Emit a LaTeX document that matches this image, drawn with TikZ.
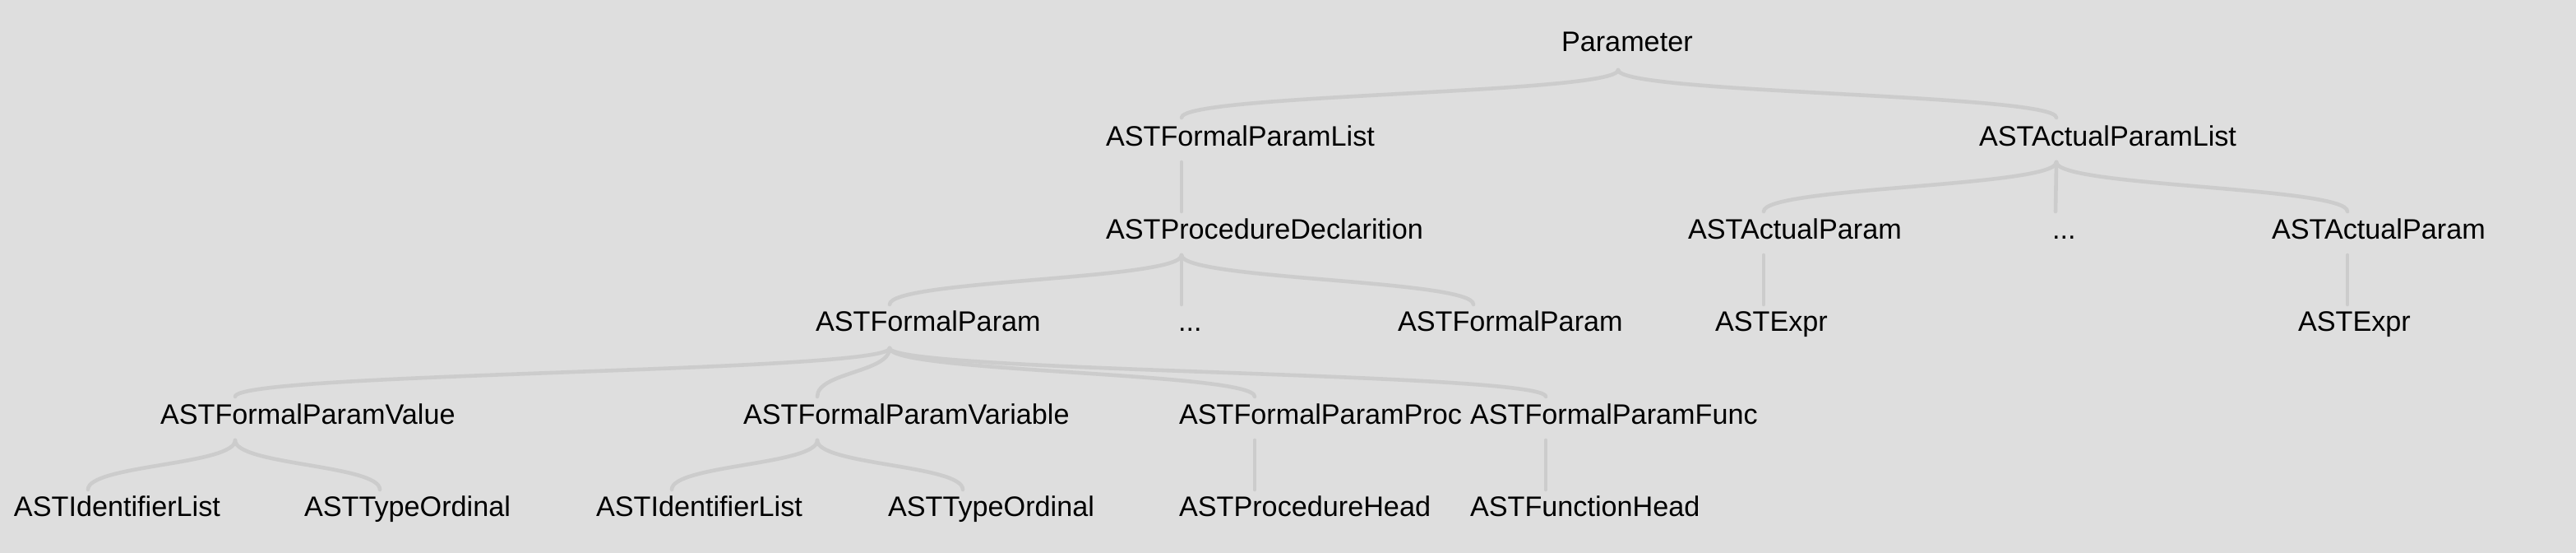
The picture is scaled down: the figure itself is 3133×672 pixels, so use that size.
\documentclass[tikz,border=0pt]{standalone}
\usepackage{fontspec}
\setmainfont{Liberation Sans}
\usetikzlibrary{calc}
\definecolor{bgc}{RGB}{222,222,222}
\definecolor{lnc}{RGB}{204,204,204}
% name, text x, baseline, link x, top y, bottom y, text
\newcommand\tnode[7]{%
  \node[lbl] (#1) at (#2,#3) {#7};
  \coordinate (#1-t) at (#4,#5);
  \coordinate (#1-b) at (#4,#6);
}
\newcommand\lnk[2]{%
  \coordinate (#1-#2-m) at ($(#1-b)!0.5!(#2-t)$);
  \draw[link] (#1-b) .. controls (#1-b |- #1-#2-m) and (#2-t |- #1-#2-m) .. (#2-t);
}
\begin{document}
\begin{tikzpicture}[x=0.5pt,y=-0.5pt,
  lbl/.style={anchor=base west,inner sep=0pt,outer sep=0pt,font=\fontsize{17.1pt}{20pt}\selectfont,text=black},
  link/.style={draw=lnc,line width=2.3pt,line cap=round}]
\fill[bgc] (0,0) rectangle (3133,672);
\useasboundingbox (0,0) rectangle (3133,672);

\tnode{P}{1899}{63}{1968}{30}{85}{Parameter}
\tnode{FPL}{1345}{178}{1437}{143}{197}{ASTFormalParamList}
\tnode{APL}{2407}{178}{2501}{143}{197}{ASTActualParamList}
\tnode{PD}{1345}{291}{1437}{257}{310}{ASTProcedureDeclarition}
\tnode{AP1}{2053}{291}{2145}{257}{310}{ASTActualParam}
\tnode{AD}{2496}{291}{2500}{257}{310}{...}
\tnode{AP2}{2763}{291}{2855}{257}{310}{ASTActualParam}
\tnode{FP1}{992}{403}{1082}{370}{423}{ASTFormalParam}
\tnode{DD}{1433}{403}{1437}{370}{423}{...}
\tnode{FP2}{1700}{403}{1792}{370}{423}{ASTFormalParam}
\tnode{E1}{2086}{403}{2145}{370}{423}{ASTExpr}
\tnode{E2}{2795}{403}{2855}{370}{423}{ASTExpr}
\tnode{FPV}{195}{516}{286}{482}{535}{ASTFormalParamValue}
\tnode{FPR}{904}{516}{994}{482}{535}{ASTFormalParamVariable}
\tnode{FPP}{1434}{516}{1526}{482}{535}{ASTFormalParamProc}
\tnode{FPF}{1788}{516}{1880}{482}{535}{ASTFormalParamFunc}
\tnode{IL1}{17}{628}{107}{595}{650}{ASTIdentifierList}
\tnode{TO1}{370}{628}{462}{595}{650}{ASTTypeOrdinal}
\tnode{IL2}{725}{628}{817}{595}{650}{ASTIdentifierList}
\tnode{TO2}{1080}{628}{1171}{595}{650}{ASTTypeOrdinal}
\tnode{PH}{1434}{628}{1526}{595}{650}{ASTProcedureHead}
\tnode{FH}{1788}{628}{1880}{595}{650}{ASTFunctionHead}

\lnk{P}{FPL}
\lnk{P}{APL}
\lnk{FPL}{PD}
\lnk{APL}{AP1}
\lnk{APL}{AD}
\lnk{APL}{AP2}
\lnk{PD}{FP1}
\lnk{PD}{DD}
\lnk{PD}{FP2}
\lnk{AP1}{E1}
\lnk{AP2}{E2}
\lnk{FP1}{FPV}
\lnk{FP1}{FPR}
\lnk{FP1}{FPP}
\lnk{FP1}{FPF}
\lnk{FPV}{IL1}
\lnk{FPV}{TO1}
\lnk{FPR}{IL2}
\lnk{FPR}{TO2}
\lnk{FPP}{PH}
\lnk{FPF}{FH}
\end{tikzpicture}
\end{document}
